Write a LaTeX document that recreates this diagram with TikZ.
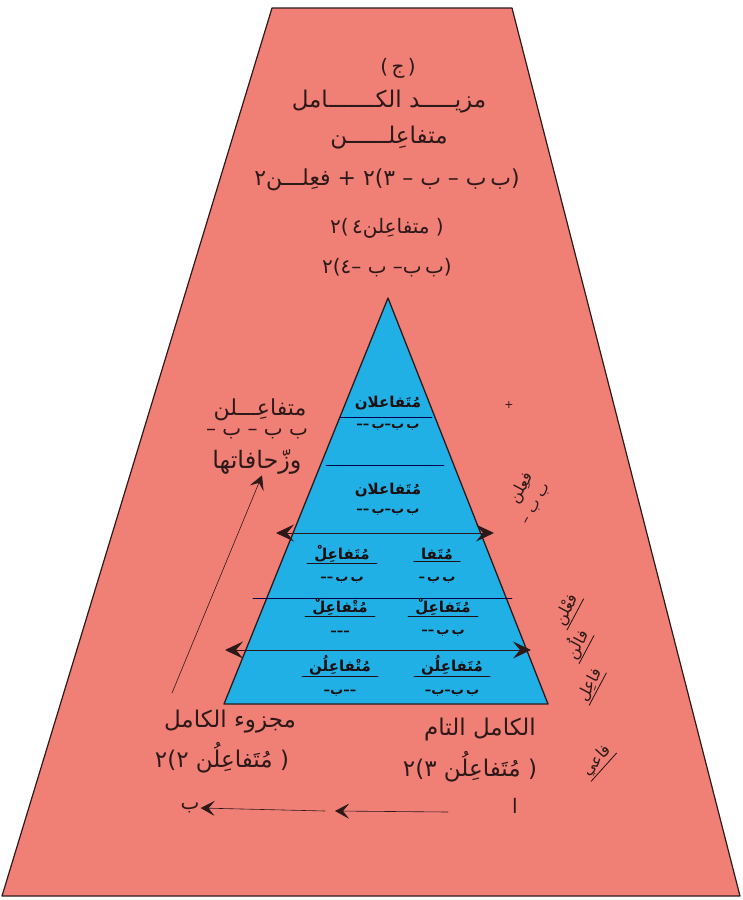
\documentclass[tikz,border=0pt]{standalone}
\usepackage{fontspec}
\usetikzlibrary{arrows.meta}
\newfontfamily\arabicfont[Script=Arabic]{DejaVu Sans}
\newfontfamily\plainfont{DejaVu Sans}
\TeXXeTstate=1
\definecolor{salmon}{RGB}{240,128,118}
\definecolor{sky}{RGB}{32,176,230}
\definecolor{ink}{RGB}{45,25,25}
% a phrase, right to left
\newcommand\ar[1]{{\arabicfont\beginR #1\endR}}
% one word, kept in its place
\newcommand\tk[1]{\hbox{\arabicfont #1}}
% one sign (bracket, digit, mark), never mirrored
\newcommand\pl[1]{\hbox{\plainfont #1}}
\newcommand\lng{\pl{–}}
\newcommand\shr{\pl{ب}}
\begin{document}
\begin{tikzpicture}[x=1pt, y=-1pt, line join=round, line cap=round, >=stealth,
	txt/.style={text=ink, inner sep=1pt, font=\arabicfont\fontsize{20}{22}\selectfont},
	title/.style={txt, font=\arabicfont\fontsize{23}{25}\selectfont},
	tword/.style={text=ink!60!black, inner sep=1pt, font=\arabicfont\bfseries\fontsize{15}{17}\selectfont},
	tmark/.style={text=ink!60!black, inner sep=0.5pt, font=\plainfont\bfseries\fontsize{13}{14}\selectfont},
	side/.style={txt, font=\arabicfont\fontsize{16}{18}\selectfont, rotate=62},
	rowline/.style={draw=black!70!blue, line width=0.8pt},
	uline/.style={draw=ink!70!black, line width=0.8pt},
	bigarrow/.style={draw=ink, line width=0.9pt, arrows={Stealth[length=18pt,width=17pt,inset=7pt]-Stealth[length=18pt,width=17pt,inset=7pt]}},
	thinarrow/.style={draw=ink, line width=0.6pt, -{Stealth[length=14pt,width=15pt,inset=6pt]}}]
	\useasboundingbox (0,0) rectangle (742,900);
	% the field
	\filldraw[fill=salmon, draw=ink, line width=1.2pt] (272,8) -- (512,8) -- (740,896) -- (2,896) -- cycle;
	% heading
	\node[txt] (jim) at (398,68) {\pl{(}\,\tk{ج}\,\pl{)}};
	\node[title] (name) at (389,102) {\ar{مزيـــــد الكـــــــامل}};
	\node[title] (foot) at (389,138) {\ar{متفاعِلــــــن}};
	\node[txt, font=\arabicfont\fontsize{22}{24}\selectfont] (lineA) at (387,180) {\pl{٢}\tk{فعِلـــن} \pl{+} \pl{٢}\pl{(}\pl{٣} \lng{} \shr{} \lng{} \shr\,\shr\pl{)}};
	\node[txt] (lineB) at (387,228) {\pl{٢}\pl{(}\,\pl{٤}\tk{متفاعِلن} \pl{)}};
	\node[txt] (lineC) at (387,268) {\pl{٢}\pl{(}\pl{٤}\lng{} \shr{} \lng\shr\,\shr\pl{)}};
	% the pyramid
	\coordinate (apex) at (388,298);
	\coordinate (baseL) at (224,704);
	\coordinate (baseR) at (548,704);
	\filldraw[fill=sky, draw=ink, line width=1.3pt] (apex) -- (baseR) -- (baseL) -- cycle;
	\draw[rowline] (340,417) -- (432,417);
	\draw[rowline] (326,465) -- (444,465);
	\draw[rowline] (253,598) -- (512,598);
	\coordinate (arLa) at (276,533);
	\coordinate (arRa) at (494,533);
	\coordinate (arLb) at (225,650);
	\coordinate (arRb) at (531,650);
	\draw[bigarrow] (arLa) -- (arRa);
	\draw[bigarrow] (arLb) -- (arRb);
	% rows
	\node[tword] (r1) at (388,403) {\tk{مُتَفاعلان}};
	\node[tmark] (m1) at (388,427) {\lng\lng\,\shr\lng\shr\,\shr};
	\node[tword] (r2) at (388,490) {\tk{مُتَفاعلان}};
	\node[tmark] (m2) at (388,512) {\lng\lng\,\shr\lng\shr\,\shr};
	\node[tword] (r3b) at (437,554) {\tk{مُتَفا}};
	\node[tmark] (m3b) at (437,580) {\lng\,\shr\,\shr};
	\node[tword] (r3a) at (342,554) {\tk{مُتَفاعِلْ}};
	\node[tmark] (m3a) at (342,580) {\lng\lng\,\shr\,\shr};
	\node[tword] (r4b) at (443,607) {\tk{مُتَفاعِلْ}};
	\node[tmark] (m4b) at (443,633) {\lng\lng\,\shr\,\shr};
	\node[tword] (r4a) at (340,607) {\tk{مُتْفاعِلْ}};
	\node[tmark] (m4a) at (340,633) {\lng\lng\lng};
	\node[tword] (r5b) at (452,665) {\tk{مُتَفاعِلُن}};
	\node[tmark] (m5b) at (452,693) {\lng\shr\lng\shr\,\shr};
	\node[tword] (r5a) at (340,665) {\tk{مُتْفاعِلُن}};
	\node[tmark] (m5a) at (340,693) {\lng\shr\lng\lng};
	\foreach \w in {r3a,r3b,r4a,r4b,r5a,r5b}
		\draw[uline] ([xshift=-6pt]\w.south west) -- ([xshift=6pt]\w.south east);
	% left side
	\node[txt, font=\arabicfont\fontsize{22}{24}\selectfont] (free) at (260,410) {\tk{متفاعِـــلن}};
	\node[txt] (freeM) at (257,434) {\lng{} \shr{} \lng{} \shr{} \shr};
	\node[txt, font=\arabicfont\fontsize{24}{26}\selectfont] (zihaf) at (257,462) {\tk{وزّحافاتها}};
	\coordinate (tail) at (172,693);
	\draw[thinarrow] (tail) -- ([xshift=5pt]zihaf.south);
	% right side
	\node[txt, font=\plainfont\fontsize{11}{12}\selectfont] (plus) at (509,405) {+};
	\node[side] (fa) at (522,488) {\tk{فعِلن}};
	\node[side, font=\plainfont\fontsize{15}{17}\selectfont] (faM) at (538,505) {\lng{} \shr{} \shr};
	\node[side] (fb) at (567,610) {\tk{فعْلن}};
	\node[side] (fc) at (576,644) {\tk{فالُن}};
	\node[side] (fd) at (590,685) {\tk{فاعِل}};
	\node[side, rotate=-14] (fe) at (597,761) {\tk{فاعي}};
	\foreach \w in {fb,fc,fd,fe}
		\draw[uline] (\w.south west) -- (\w.south east);
	% bottom
	\node[title] (full) at (480,730) {\ar{الكامل التام}};
	\node[title] (fullF) at (470,767) {\pl{٢}\pl{(}\pl{٣} \tk{مُتَفاعِلُن} \pl{)}};
	\node[title] (part) at (230,722) {\ar{مجزوء الكامل}};
	\node[title] (partF) at (222,758) {\pl{٢}\pl{(}\pl{٢} \tk{مُتَفاعِلُن} \pl{)}};
	\node[txt] (alif) at (515,806) {\tk{ا}};
	\node[txt] (ba) at (190,808) {\pl{ب}};
	\coordinate (mid) at (330,811);
	\coordinate (start) at (448,812);
	\draw[thinarrow] (start) -- ([xshift=5pt]mid);
	\draw[thinarrow] ([xshift=-5pt]mid) -- (ba.east);
\end{tikzpicture}
\end{document}
